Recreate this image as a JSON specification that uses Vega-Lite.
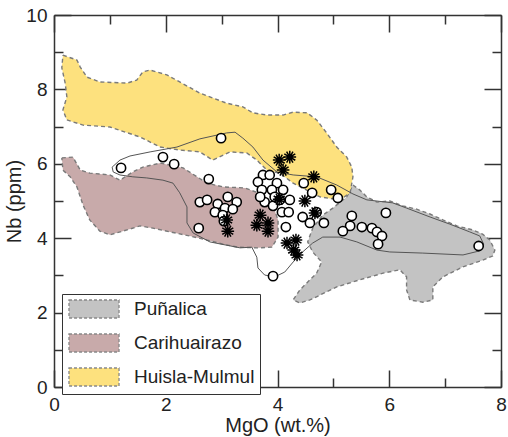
{
  "$schema": "https://vega.github.io/schema/vega-lite/v6.json",
  "width": 447,
  "height": 372,
  "autosize": "none",
  "padding": {"left": 54, "top": 15, "right": 7, "bottom": 50},
  "config": {
    "view": {"stroke": null},
    "font": "Liberation Sans",
    "axis": {"grid": false}
  },
  "datasets": {
    "poly": [
      {"group": "Puñalica", "i": 1, "x": 5.35, "y": 5.43},
      {"group": "Puñalica", "i": 2, "x": 5.47, "y": 5.30},
      {"group": "Puñalica", "i": 3, "x": 5.60, "y": 5.11},
      {"group": "Puñalica", "i": 4, "x": 5.78, "y": 4.97},
      {"group": "Puñalica", "i": 5, "x": 6.01, "y": 5.00},
      {"group": "Puñalica", "i": 6, "x": 6.24, "y": 4.87},
      {"group": "Puñalica", "i": 7, "x": 6.49, "y": 4.78},
      {"group": "Puñalica", "i": 8, "x": 6.73, "y": 4.65},
      {"group": "Puñalica", "i": 9, "x": 6.96, "y": 4.49},
      {"group": "Puñalica", "i": 10, "x": 7.21, "y": 4.33},
      {"group": "Puñalica", "i": 11, "x": 7.50, "y": 4.22},
      {"group": "Puñalica", "i": 12, "x": 7.67, "y": 4.11},
      {"group": "Puñalica", "i": 13, "x": 7.80, "y": 3.95},
      {"group": "Puñalica", "i": 14, "x": 7.89, "y": 3.68},
      {"group": "Puñalica", "i": 15, "x": 7.85, "y": 3.52},
      {"group": "Puñalica", "i": 16, "x": 7.67, "y": 3.41},
      {"group": "Puñalica", "i": 17, "x": 7.32, "y": 3.23},
      {"group": "Puñalica", "i": 18, "x": 6.96, "y": 2.96},
      {"group": "Puñalica", "i": 19, "x": 6.78, "y": 2.69},
      {"group": "Puñalica", "i": 20, "x": 6.78, "y": 2.34},
      {"group": "Puñalica", "i": 21, "x": 6.60, "y": 2.28},
      {"group": "Puñalica", "i": 22, "x": 6.37, "y": 2.34},
      {"group": "Puñalica", "i": 23, "x": 6.31, "y": 2.61},
      {"group": "Puñalica", "i": 24, "x": 6.31, "y": 2.96},
      {"group": "Puñalica", "i": 25, "x": 6.19, "y": 3.15},
      {"group": "Puñalica", "i": 26, "x": 5.89, "y": 3.06},
      {"group": "Puñalica", "i": 27, "x": 5.47, "y": 2.88},
      {"group": "Puñalica", "i": 28, "x": 5.06, "y": 2.69},
      {"group": "Puñalica", "i": 29, "x": 4.58, "y": 2.34},
      {"group": "Puñalica", "i": 30, "x": 4.40, "y": 2.26},
      {"group": "Puñalica", "i": 31, "x": 4.28, "y": 2.34},
      {"group": "Puñalica", "i": 32, "x": 4.40, "y": 2.61},
      {"group": "Puñalica", "i": 33, "x": 4.70, "y": 3.06},
      {"group": "Puñalica", "i": 34, "x": 4.79, "y": 3.36},
      {"group": "Puñalica", "i": 35, "x": 4.63, "y": 3.63},
      {"group": "Puñalica", "i": 36, "x": 4.54, "y": 3.90},
      {"group": "Puñalica", "i": 37, "x": 4.63, "y": 4.27},
      {"group": "Puñalica", "i": 38, "x": 4.81, "y": 4.62},
      {"group": "Puñalica", "i": 39, "x": 4.99, "y": 4.81},
      {"group": "Puñalica", "i": 40, "x": 5.24, "y": 5.11},
      {"group": "Puñalica", "i": 41, "x": 5.35, "y": 5.43},
      {"group": "Carihuairazo", "i": 1, "x": 0.14, "y": 6.16},
      {"group": "Carihuairazo", "i": 2, "x": 0.34, "y": 6.18},
      {"group": "Carihuairazo", "i": 3, "x": 0.47, "y": 5.83},
      {"group": "Carihuairazo", "i": 4, "x": 0.64, "y": 5.75},
      {"group": "Carihuairazo", "i": 5, "x": 1.00, "y": 5.70},
      {"group": "Carihuairazo", "i": 6, "x": 1.18, "y": 5.56},
      {"group": "Carihuairazo", "i": 7, "x": 1.41, "y": 5.78},
      {"group": "Carihuairazo", "i": 8, "x": 1.59, "y": 5.91},
      {"group": "Carihuairazo", "i": 9, "x": 1.90, "y": 6.02},
      {"group": "Carihuairazo", "i": 10, "x": 2.31, "y": 5.89},
      {"group": "Carihuairazo", "i": 11, "x": 2.56, "y": 5.65},
      {"group": "Carihuairazo", "i": 12, "x": 2.74, "y": 5.48},
      {"group": "Carihuairazo", "i": 13, "x": 3.02, "y": 5.38},
      {"group": "Carihuairazo", "i": 14, "x": 3.42, "y": 5.35},
      {"group": "Carihuairazo", "i": 15, "x": 3.65, "y": 5.22},
      {"group": "Carihuairazo", "i": 16, "x": 3.90, "y": 4.95},
      {"group": "Carihuairazo", "i": 17, "x": 4.01, "y": 4.49},
      {"group": "Carihuairazo", "i": 18, "x": 4.01, "y": 4.03},
      {"group": "Carihuairazo", "i": 19, "x": 3.90, "y": 3.76},
      {"group": "Carihuairazo", "i": 20, "x": 3.65, "y": 3.74},
      {"group": "Carihuairazo", "i": 21, "x": 3.29, "y": 3.76},
      {"group": "Carihuairazo", "i": 22, "x": 3.02, "y": 3.84},
      {"group": "Carihuairazo", "i": 23, "x": 2.74, "y": 3.95},
      {"group": "Carihuairazo", "i": 24, "x": 2.43, "y": 4.06},
      {"group": "Carihuairazo", "i": 25, "x": 2.08, "y": 4.17},
      {"group": "Carihuairazo", "i": 26, "x": 1.77, "y": 4.27},
      {"group": "Carihuairazo", "i": 27, "x": 1.54, "y": 4.33},
      {"group": "Carihuairazo", "i": 28, "x": 1.23, "y": 4.19},
      {"group": "Carihuairazo", "i": 29, "x": 1.00, "y": 4.09},
      {"group": "Carihuairazo", "i": 30, "x": 0.82, "y": 4.19},
      {"group": "Carihuairazo", "i": 31, "x": 0.64, "y": 4.49},
      {"group": "Carihuairazo", "i": 32, "x": 0.52, "y": 4.89},
      {"group": "Carihuairazo", "i": 33, "x": 0.41, "y": 5.38},
      {"group": "Carihuairazo", "i": 34, "x": 0.29, "y": 5.65},
      {"group": "Carihuairazo", "i": 35, "x": 0.16, "y": 5.83},
      {"group": "Carihuairazo", "i": 36, "x": 0.14, "y": 6.16},
      {"group": "Huisla-Mulmul", "i": 1, "x": 0.16, "y": 8.92},
      {"group": "Huisla-Mulmul", "i": 2, "x": 0.41, "y": 8.79},
      {"group": "Huisla-Mulmul", "i": 3, "x": 0.47, "y": 8.60},
      {"group": "Huisla-Mulmul", "i": 4, "x": 0.59, "y": 8.33},
      {"group": "Huisla-Mulmul", "i": 5, "x": 0.82, "y": 8.20},
      {"group": "Huisla-Mulmul", "i": 6, "x": 1.31, "y": 8.17},
      {"group": "Huisla-Mulmul", "i": 7, "x": 1.48, "y": 8.25},
      {"group": "Huisla-Mulmul", "i": 8, "x": 1.59, "y": 8.47},
      {"group": "Huisla-Mulmul", "i": 9, "x": 1.72, "y": 8.52},
      {"group": "Huisla-Mulmul", "i": 10, "x": 2.02, "y": 8.39},
      {"group": "Huisla-Mulmul", "i": 11, "x": 2.25, "y": 8.20},
      {"group": "Huisla-Mulmul", "i": 12, "x": 2.61, "y": 7.90},
      {"group": "Huisla-Mulmul", "i": 13, "x": 3.09, "y": 7.63},
      {"group": "Huisla-Mulmul", "i": 14, "x": 3.38, "y": 7.53},
      {"group": "Huisla-Mulmul", "i": 15, "x": 3.56, "y": 7.37},
      {"group": "Huisla-Mulmul", "i": 16, "x": 3.81, "y": 7.31},
      {"group": "Huisla-Mulmul", "i": 17, "x": 4.10, "y": 7.31},
      {"group": "Huisla-Mulmul", "i": 18, "x": 4.28, "y": 7.39},
      {"group": "Huisla-Mulmul", "i": 19, "x": 4.53, "y": 7.37},
      {"group": "Huisla-Mulmul", "i": 20, "x": 4.70, "y": 7.18},
      {"group": "Huisla-Mulmul", "i": 21, "x": 4.88, "y": 6.83},
      {"group": "Huisla-Mulmul", "i": 22, "x": 5.06, "y": 6.45},
      {"group": "Huisla-Mulmul", "i": 23, "x": 5.24, "y": 6.18},
      {"group": "Huisla-Mulmul", "i": 24, "x": 5.33, "y": 5.91},
      {"group": "Huisla-Mulmul", "i": 25, "x": 5.35, "y": 5.65},
      {"group": "Huisla-Mulmul", "i": 26, "x": 5.30, "y": 5.22},
      {"group": "Huisla-Mulmul", "i": 27, "x": 5.12, "y": 5.03},
      {"group": "Huisla-Mulmul", "i": 28, "x": 4.76, "y": 5.11},
      {"group": "Huisla-Mulmul", "i": 29, "x": 4.28, "y": 5.48},
      {"group": "Huisla-Mulmul", "i": 30, "x": 4.04, "y": 5.75},
      {"group": "Huisla-Mulmul", "i": 31, "x": 3.81, "y": 5.83},
      {"group": "Huisla-Mulmul", "i": 32, "x": 3.63, "y": 6.10},
      {"group": "Huisla-Mulmul", "i": 33, "x": 3.45, "y": 6.29},
      {"group": "Huisla-Mulmul", "i": 34, "x": 3.15, "y": 6.32},
      {"group": "Huisla-Mulmul", "i": 35, "x": 2.84, "y": 6.10},
      {"group": "Huisla-Mulmul", "i": 36, "x": 2.61, "y": 6.32},
      {"group": "Huisla-Mulmul", "i": 37, "x": 2.25, "y": 6.37},
      {"group": "Huisla-Mulmul", "i": 38, "x": 1.90, "y": 6.45},
      {"group": "Huisla-Mulmul", "i": 39, "x": 1.54, "y": 6.72},
      {"group": "Huisla-Mulmul", "i": 40, "x": 1.00, "y": 6.99},
      {"group": "Huisla-Mulmul", "i": 41, "x": 0.52, "y": 7.04},
      {"group": "Huisla-Mulmul", "i": 42, "x": 0.23, "y": 7.18},
      {"group": "Huisla-Mulmul", "i": 43, "x": 0.16, "y": 7.45},
      {"group": "Huisla-Mulmul", "i": 44, "x": 0.23, "y": 7.80},
      {"group": "Huisla-Mulmul", "i": 45, "x": 0.20, "y": 8.17},
      {"group": "Huisla-Mulmul", "i": 46, "x": 0.14, "y": 8.58},
      {"group": "Huisla-Mulmul", "i": 47, "x": 0.16, "y": 8.92}
    ],
    "env": [
      {"i": 1, "x": 1.04, "y": 5.91},
      {"i": 2, "x": 1.18, "y": 6.10},
      {"i": 3, "x": 1.36, "y": 6.21},
      {"i": 4, "x": 1.72, "y": 6.32},
      {"i": 5, "x": 2.20, "y": 6.45},
      {"i": 6, "x": 2.61, "y": 6.67},
      {"i": 7, "x": 3.09, "y": 6.83},
      {"i": 8, "x": 3.24, "y": 6.85},
      {"i": 9, "x": 3.38, "y": 6.69},
      {"i": 10, "x": 3.56, "y": 6.45},
      {"i": 11, "x": 3.74, "y": 6.10},
      {"i": 12, "x": 3.99, "y": 5.78},
      {"i": 13, "x": 4.28, "y": 5.70},
      {"i": 14, "x": 4.70, "y": 5.65},
      {"i": 15, "x": 5.06, "y": 5.43},
      {"i": 16, "x": 5.35, "y": 5.19},
      {"i": 17, "x": 5.60, "y": 5.03},
      {"i": 18, "x": 6.06, "y": 4.95},
      {"i": 19, "x": 6.31, "y": 4.81},
      {"i": 20, "x": 6.73, "y": 4.57},
      {"i": 21, "x": 7.08, "y": 4.38},
      {"i": 22, "x": 7.44, "y": 4.17},
      {"i": 23, "x": 7.62, "y": 4.06},
      {"i": 24, "x": 7.69, "y": 3.84},
      {"i": 25, "x": 7.62, "y": 3.66},
      {"i": 26, "x": 7.32, "y": 3.55},
      {"i": 27, "x": 6.60, "y": 3.60},
      {"i": 28, "x": 6.01, "y": 3.63},
      {"i": 29, "x": 5.78, "y": 3.68},
      {"i": 30, "x": 5.42, "y": 3.90},
      {"i": 31, "x": 5.12, "y": 4.03},
      {"i": 32, "x": 4.81, "y": 4.03},
      {"i": 33, "x": 4.63, "y": 3.87},
      {"i": 34, "x": 4.45, "y": 3.63},
      {"i": 35, "x": 4.28, "y": 3.36},
      {"i": 36, "x": 4.13, "y": 3.09},
      {"i": 37, "x": 3.95, "y": 2.96},
      {"i": 38, "x": 3.77, "y": 3.01},
      {"i": 39, "x": 3.65, "y": 3.20},
      {"i": 40, "x": 3.63, "y": 3.49},
      {"i": 41, "x": 3.54, "y": 3.76},
      {"i": 42, "x": 3.33, "y": 3.74},
      {"i": 43, "x": 2.79, "y": 3.90},
      {"i": 44, "x": 2.49, "y": 4.14},
      {"i": 45, "x": 2.38, "y": 4.41},
      {"i": 46, "x": 2.38, "y": 4.84},
      {"i": 47, "x": 2.25, "y": 5.22},
      {"i": 48, "x": 2.13, "y": 5.48},
      {"i": 49, "x": 1.95, "y": 5.56},
      {"i": 50, "x": 1.66, "y": 5.62},
      {"i": 51, "x": 1.41, "y": 5.65},
      {"i": 52, "x": 1.18, "y": 5.70},
      {"i": 53, "x": 1.06, "y": 5.78},
      {"i": 54, "x": 1.04, "y": 5.91}
    ],
    "circ": [
      {"x": 1.20, "y": 5.89}, {"x": 1.95, "y": 6.18}, {"x": 2.15, "y": 5.99}, {"x": 2.99, "y": 6.69},
      {"x": 2.77, "y": 5.59}, {"x": 2.61, "y": 4.97}, {"x": 2.74, "y": 5.03}, {"x": 2.93, "y": 4.92},
      {"x": 3.11, "y": 5.11}, {"x": 3.27, "y": 4.97}, {"x": 2.88, "y": 4.70}, {"x": 3.06, "y": 4.81},
      {"x": 3.20, "y": 4.78}, {"x": 3.02, "y": 4.62}, {"x": 2.59, "y": 4.27}, {"x": 3.74, "y": 5.70},
      {"x": 3.86, "y": 5.70}, {"x": 3.65, "y": 5.51}, {"x": 3.99, "y": 5.48}, {"x": 3.72, "y": 5.30},
      {"x": 3.90, "y": 5.30}, {"x": 4.10, "y": 5.30}, {"x": 3.77, "y": 4.97}, {"x": 3.95, "y": 5.11},
      {"x": 4.22, "y": 5.03}, {"x": 3.92, "y": 4.87}, {"x": 4.08, "y": 4.70}, {"x": 4.20, "y": 4.70},
      {"x": 4.15, "y": 4.30}, {"x": 4.47, "y": 5.48}, {"x": 4.62, "y": 5.22}, {"x": 4.96, "y": 5.30},
      {"x": 5.08, "y": 5.08}, {"x": 4.45, "y": 4.57}, {"x": 4.58, "y": 4.41}, {"x": 4.70, "y": 4.70},
      {"x": 4.83, "y": 4.41}, {"x": 5.33, "y": 4.60}, {"x": 5.30, "y": 4.33}, {"x": 5.17, "y": 4.19},
      {"x": 5.51, "y": 4.30}, {"x": 5.69, "y": 4.27}, {"x": 5.78, "y": 4.17}, {"x": 5.87, "y": 4.06},
      {"x": 5.80, "y": 3.84}, {"x": 5.94, "y": 4.68}, {"x": 7.60, "y": 3.79}, {"x": 3.92, "y": 2.98},
      {"x": 3.69, "y": 5.11}, {"x": 4.04, "y": 5.03}, {"x": 3.04, "y": 4.46}
    ],
    "star": [
      {"x": 4.03, "y": 6.10}, {"x": 4.22, "y": 6.18}, {"x": 4.10, "y": 5.83}, {"x": 4.65, "y": 5.65},
      {"x": 4.49, "y": 5.00}, {"x": 4.67, "y": 4.68}, {"x": 3.69, "y": 4.62}, {"x": 3.63, "y": 4.35},
      {"x": 3.83, "y": 4.41}, {"x": 3.83, "y": 4.19}, {"x": 3.09, "y": 4.49}, {"x": 3.11, "y": 4.19},
      {"x": 4.17, "y": 3.87}, {"x": 4.33, "y": 3.95}, {"x": 4.29, "y": 3.68}, {"x": 4.35, "y": 3.55},
      {"x": 4.03, "y": 5.05}
    ]
  },
  "resolve": {"axis": {"x": "independent", "y": "independent"}},
  "layer": [
    {
      "data": {"name": "poly"},
      "mark": {"type": "line", "stroke": "#7a7a7a", "strokeWidth": 1.4, "strokeDash": [4, 3]},
      "encoding": {
        "x": {
          "field": "x", "type": "quantitative",
          "scale": {"domain": [0, 8], "nice": false, "zero": false},
          "axis": {
            "orient": "bottom",
            "values": [0, 1, 2, 3, 4, 5, 6, 7, 8],
            "tickSize": {"condition": {"test": "datum.value % 2 === 0", "value": -17}, "value": -9},
            "labelExpr": "datum.value % 2 === 0 ? datum.label : ''",
            "domainColor": "#333", "domainWidth": 1.5,
            "tickColor": "#333", "tickWidth": 1.5,
            "labelFontSize": 19, "labelColor": "#222", "labelPadding": 25, "labelFlush": false,
            "title": "MgO (wt.%)", "titleFontSize": 20, "titleFontWeight": "normal", "titleColor": "#222", "titlePadding": 1
          }
        },
        "y": {
          "field": "y", "type": "quantitative",
          "scale": {"domain": [0, 10], "nice": false, "zero": false},
          "axis": {
            "orient": "left",
            "values": [0, 1, 2, 3, 4, 5, 6, 7, 8, 9, 10],
            "tickSize": {"condition": {"test": "datum.value % 2 === 0", "value": -17}, "value": -9},
            "labelExpr": "datum.value % 2 === 0 ? datum.label : ''",
            "domainColor": "#333", "domainWidth": 1.5,
            "tickColor": "#333", "tickWidth": 1.5,
            "labelFontSize": 19, "labelColor": "#222", "labelPadding": 24, "labelFlush": false,
            "title": "Nb (ppm)", "titleFontSize": 20, "titleFontWeight": "normal", "titleColor": "#222", "titlePadding": 1
          }
        },
        "order": {"field": "i", "type": "quantitative"},
        "fill": {
          "field": "group", "type": "nominal",
          "scale": {"domain": ["Puñalica", "Carihuairazo", "Huisla-Mulmul"], "range": ["#c3c3c3", "#c8aaaa", "#fde17e"]},
          "legend": {
            "title": null,
            "orient": "none",
            "legendX": 8,
            "legendY": 279,
            "strokeColor": "#333",
            "fillColor": "white",
            "padding": 5,
            "rowPadding": 10,
            "symbolType": "M-2.78,-1H2.78V1H-2.78Z",
            "symbolSize": 324,
            "symbolOffset": 17,
            "symbolStrokeColor": "#888",
            "symbolStrokeWidth": 1.3,
            "symbolDash": [3, 2],
            "symbolOpacity": 1,
            "labelFontSize": 19,
            "labelColor": "#222",
            "labelOffset": 30,
            "labelFont": "Liberation Sans"
          }
        }
      }
    },
    {
      "data": {"name": "env"},
      "mark": {"type": "line", "stroke": "#555", "strokeWidth": 1},
      "encoding": {
        "x": {
          "field": "x", "type": "quantitative",
          "scale": {"domain": [0, 8], "nice": false, "zero": false},
          "axis": {
            "orient": "top",
            "values": [0, 1, 2, 3, 4, 5, 6, 7, 8],
            "tickSize": {"condition": {"test": "datum.value % 2 === 0", "value": -17}, "value": -9},
            "labels": false,
            "domainColor": "#333", "domainWidth": 1.5,
            "tickColor": "#333", "tickWidth": 1.5,
            "title": null
          }
        },
        "y": {
          "field": "y", "type": "quantitative",
          "scale": {"domain": [0, 10], "nice": false, "zero": false},
          "axis": {
            "orient": "right",
            "values": [0, 1, 2, 3, 4, 5, 6, 7, 8, 9, 10],
            "tickSize": {"condition": {"test": "datum.value % 2 === 0", "value": -17}, "value": -9},
            "labels": false,
            "domainColor": "#333", "domainWidth": 1.5,
            "tickColor": "#333", "tickWidth": 1.5,
            "title": null
          }
        },
        "order": {"field": "i", "type": "quantitative"}
      }
    },
    {
      "data": {"name": "circ"},
      "mark": {"type": "point", "shape": "circle", "filled": false, "fill": "white", "fillOpacity": 1, "stroke": "black", "strokeWidth": 1.6, "size": 85, "opacity": 1},
      "encoding": {
        "x": {"field": "x", "type": "quantitative", "axis": null},
        "y": {"field": "y", "type": "quantitative", "axis": null}
      }
    },
    {
      "data": {"name": "star"},
      "mark": {"type": "point", "shape": "M-1,0L1,0M-0.87,-0.5L0.87,0.5M-0.5,-0.87L0.5,0.87M0,-1L0,1M0.5,-0.87L-0.5,0.87M0.87,-0.5L-0.87,0.5", "filled": false, "stroke": "black", "strokeWidth": 1.5, "size": 160, "opacity": 1},
      "encoding": {
        "x": {"field": "x", "type": "quantitative", "axis": null},
        "y": {"field": "y", "type": "quantitative", "axis": null}
      }
    }
  ]
}
